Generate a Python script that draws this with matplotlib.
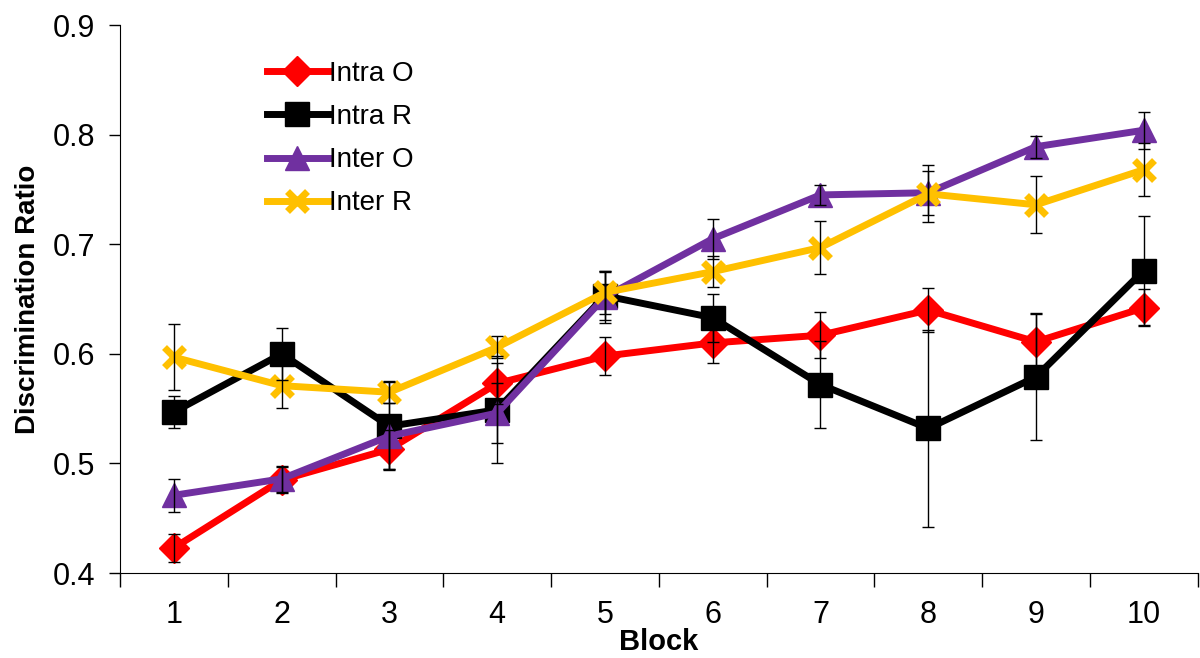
import matplotlib.pyplot as plt
from matplotlib.ticker import FixedLocator

plt.rcParams['font.family'] = ['Liberation Sans', 'DejaVu Sans']

blocks = [1, 2, 3, 4, 5, 6, 7, 8, 9, 10]

intra_o = [0.423, 0.485, 0.513, 0.573, 0.598, 0.610, 0.617, 0.640, 0.611, 0.642]
intra_o_err = [0.013, 0.012, 0.018, 0.019, 0.017, 0.018, 0.021, 0.020, 0.025, 0.017]

intra_r = [0.547, 0.600, 0.534, 0.549, 0.653, 0.633, 0.572, 0.532, 0.579, 0.676]
intra_r_err = [0.015, 0.024, 0.040, 0.049, 0.022, 0.022, 0.040, 0.090, 0.058, 0.050]

inter_o = [0.471, 0.486, 0.525, 0.546, 0.652, 0.705, 0.745, 0.747, 0.789, 0.804]
inter_o_err = [0.015, 0.012, 0.030, 0.027, 0.024, 0.018, 0.009, 0.020, 0.010, 0.017]

inter_r = [0.597, 0.571, 0.565, 0.606, 0.656, 0.675, 0.697, 0.746, 0.736, 0.768]
inter_r_err = [0.030, 0.020, 0.010, 0.010, 0.020, 0.014, 0.024, 0.026, 0.026, 0.024]

series = [
    ("Intra O", intra_o, intra_o_err, "#ff0000", "D", 15),
    ("Intra R", intra_r, intra_r_err, "#000000", "s", 17),
    ("Inter O", inter_o, inter_o_err, "#7030a0", "^", 17),
    ("Inter R", inter_r, inter_r_err, "#ffc000", "x", 14),
]

fig = plt.figure(figsize=(12, 6.58), dpi=100)
ax = fig.add_axes([0.1, 0.129, 0.898, 0.833])

for name, vals, err, color, marker, ms in series:
    if marker == "x":
        ax.plot(blocks, vals, color=color, lw=5, marker=marker, ms=ms,
                mew=5, label=name, zorder=2)
    else:
        ax.plot(blocks, vals, color=color, lw=5, marker=marker, ms=ms,
                mec=color, label=name, zorder=2)
    ax.errorbar(blocks, vals, yerr=err, fmt="none", ecolor="black",
                elinewidth=1, capsize=4.5, capthick=1, zorder=3)

ax.set_xlim(0.5, 10.5)
ax.set_ylim(0.4, 0.9)
ax.set_yticks([0.4, 0.5, 0.6, 0.7, 0.8, 0.9])
ax.set_yticklabels(["0.4", "0.5", "0.6", "0.7", "0.8", "0.9"])

# category boundaries get the tick marks, labels sit between them
ax.xaxis.set_major_locator(FixedLocator([b + 0.5 for b in [0] + blocks]))
ax.set_xticklabels([])
ax.xaxis.set_minor_locator(FixedLocator(blocks))
ax.set_xticklabels([str(b) for b in blocks], minor=True)
ax.tick_params(axis="x", which="major", length=10, width=1, direction="out")
ax.tick_params(axis="x", which="minor", length=0, labelsize=22, pad=19)
ax.tick_params(axis="y", length=8, width=1, labelsize=22, pad=10)

ax.spines["top"].set_visible(False)
ax.spines["right"].set_visible(False)

ax.set_xlabel("Block", fontsize=21, fontweight="bold", labelpad=-1)
ax.set_ylabel("Discrimination Ratio", fontsize=20, fontweight="bold", labelpad=8)

ax.legend(loc="upper left", bbox_to_anchor=(0.126, 0.955), frameon=False,
          fontsize=20, handlelength=2.2, handletextpad=0.05, labelspacing=0.62,
          borderaxespad=0)

plt.savefig("out.png", dpi=100)
